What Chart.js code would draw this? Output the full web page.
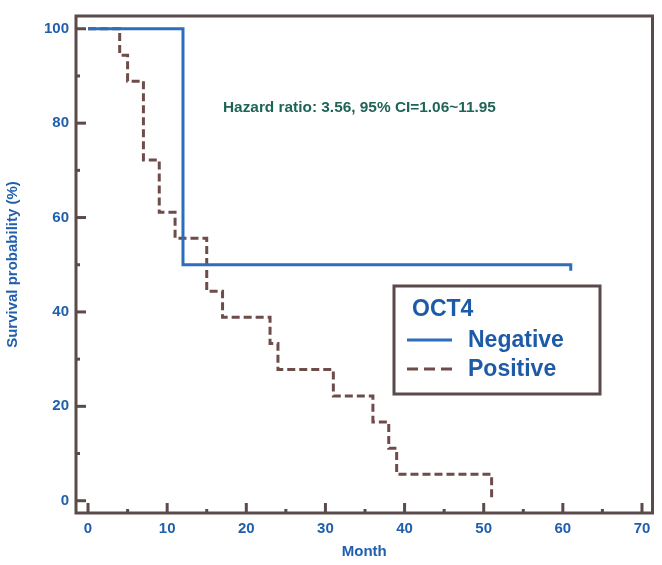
<!DOCTYPE html>
<html>
<head>
<meta charset="utf-8">
<script src="https://cdn.jsdelivr.net/npm/chart.js@4"></script>
<style>
  html, body { margin: 0; padding: 0; background: #fff; }
  #wrap { width: 662px; height: 565px; }
</style>
</head>
<body>
<div id="wrap"><canvas id="km"></canvas></div>
<script>
// Kaplan-Meier data (month, survival %)
const negMonths = [0, 12, 61];
const negSurv = [100, 50, 48.7];
const posMonths = [0, 4, 5, 7, 9, 11, 15, 17, 23, 24, 31, 36, 38, 39, 51];
const posSurv = [100, 94.4, 88.9, 72.2, 61.1, 55.6, 44.4, 38.9, 33.3, 27.8, 22.2, 16.7, 11.1, 5.6, 0];

const xMajor = [0, 10, 20, 30, 40, 50, 60, 70];
const xMinor = [5, 15, 25, 35, 45, 55, 65];
const yMajor = [0, 20, 40, 60, 80, 100];
const yMinor = [10, 30, 50, 70, 90];

const legendTitle = 'OCT4';
const hazardText = 'Hazard ratio: 3.56, 95% CI=1.06~11.95';

// colours
const blue = '#2c6dbc';
const brown = '#6d4c4a';
const frame = '#5a4a4a';
const labelBlue = '#1f5fae';
const teal = '#1f6458';
const font = '"Liberation Sans", Arial, sans-serif';

const toXY = (xs, ys) => xs.map((x, i) => ({ x, y: ys[i] }));

// frame + inward tick marks, drawn from the scales
const framePlugin = {
  id: 'frameTicks',
  afterDatasetsDraw(chart) {
    const { ctx, chartArea: a, scales } = chart;
    const xs = scales.x, ys = scales.y;
    ctx.save();
    ctx.strokeStyle = frame;
    ctx.lineWidth = 3;
    ctx.lineCap = 'butt';
    ctx.strokeRect(a.left, a.top, a.right - a.left, a.bottom - a.top);
    const tick = (x1, y1, x2, y2) => {
      ctx.beginPath(); ctx.moveTo(x1, y1); ctx.lineTo(x2, y2); ctx.stroke();
    };
    xMajor.forEach(v => { const p = xs.getPixelForValue(v); tick(p, a.bottom, p, a.bottom - 10); });
    xMinor.forEach(v => { const p = xs.getPixelForValue(v); tick(p, a.bottom, p, a.bottom - 4); });
    yMajor.forEach(v => { const p = ys.getPixelForValue(v); tick(a.left, p, a.left + 10, p); });
    yMinor.forEach(v => { const p = ys.getPixelForValue(v); tick(a.left, p, a.left + 4, p); });

    // hazard ratio note
    ctx.fillStyle = teal;
    ctx.font = 'bold 15.4px ' + font;
    ctx.textBaseline = 'middle';
    ctx.textAlign = 'left';
    ctx.fillText(hazardText, xs.getPixelForValue(17.05), ys.getPixelForValue(83.2));
    ctx.restore();
  }
};

// boxed legend inside the plot
const legendPlugin = {
  id: 'boxLegend',
  afterDraw(chart) {
    const { ctx } = chart;
    const box = { x: 394, y: 286, w: 206, h: 108 };
    ctx.save();
    ctx.fillStyle = '#fff';
    ctx.fillRect(box.x, box.y, box.w, box.h);
    ctx.strokeStyle = frame;
    ctx.lineWidth = 3;
    ctx.strokeRect(box.x, box.y, box.w, box.h);
    ctx.font = 'bold 23px ' + font;
    ctx.fillStyle = '#1d5aa8';
    ctx.textBaseline = 'middle';
    ctx.fillText(legendTitle, 412, 310);
    chart.data.datasets.forEach((ds, i) => {
      const y = 340 + i * 29;
      ctx.strokeStyle = ds.borderColor;
      ctx.lineWidth = 3;
      ctx.setLineDash(ds.borderDash ? [11, 6] : []);
      ctx.beginPath(); ctx.moveTo(407, y); ctx.lineTo(452, y); ctx.stroke();
      ctx.setLineDash([]);
      ctx.fillStyle = '#1d5aa8';
      ctx.fillText(ds.label, 468, y + 1);
    });
    ctx.restore();
  }
};

new Chart(document.getElementById('km'), {
  type: 'line',
  data: {
    datasets: [
      {
        label: 'Negative',
        data: toXY(negMonths, negSurv),
        borderColor: blue,
        borderWidth: 3,
        stepped: 'before',
        pointRadius: 0,
        fill: false,
      },
      {
        label: 'Positive',
        data: toXY(posMonths, posSurv),
        borderColor: brown,
        borderWidth: 3,
        borderDash: [8, 4],
        stepped: 'before',
        pointRadius: 0,
        fill: false,
      },
    ],
  },
  options: {
    responsive: true,
    maintainAspectRatio: false,
    animation: false,
    events: [],
    layout: { padding: { left: 0, right: 9.5, top: 7, bottom: 0 } },
    plugins: {
      legend: { display: false },
      tooltip: { enabled: false },
    },
    scales: {
      x: {
        type: 'linear',
        min: -1.52,
        max: 71.33,
        afterBuildTicks: (s) => { s.ticks = xMajor.map(v => ({ value: v })); },
        afterFit: (s) => { s.height = 52; },
        grid: { display: false, drawTicks: false },
        border: { display: false },
        ticks: { color: labelBlue, font: { family: font, size: 15, weight: 'bold' }, padding: 7, maxRotation: 0 },
        title: { display: true, text: 'Month', color: labelBlue, font: { family: font, size: 15, weight: 'bold' }, padding: 4 },
      },
      y: {
        type: 'linear',
        min: -2.6,
        max: 102.7,
        afterBuildTicks: (s) => { s.ticks = yMajor.map(v => ({ value: v })); },
        afterFit: (s) => { s.width = 76; },
        grid: { display: false, drawTicks: false },
        border: { display: false },
        ticks: { color: labelBlue, font: { family: font, size: 15, weight: 'bold' }, padding: 7 },
        title: { display: true, text: 'Survival probability (%)', color: labelBlue, font: { family: font, size: 15, weight: 'bold' }, padding: 4 },
      },
    },
  },
  plugins: [framePlugin, legendPlugin],
});
</script>
</body>
</html>
